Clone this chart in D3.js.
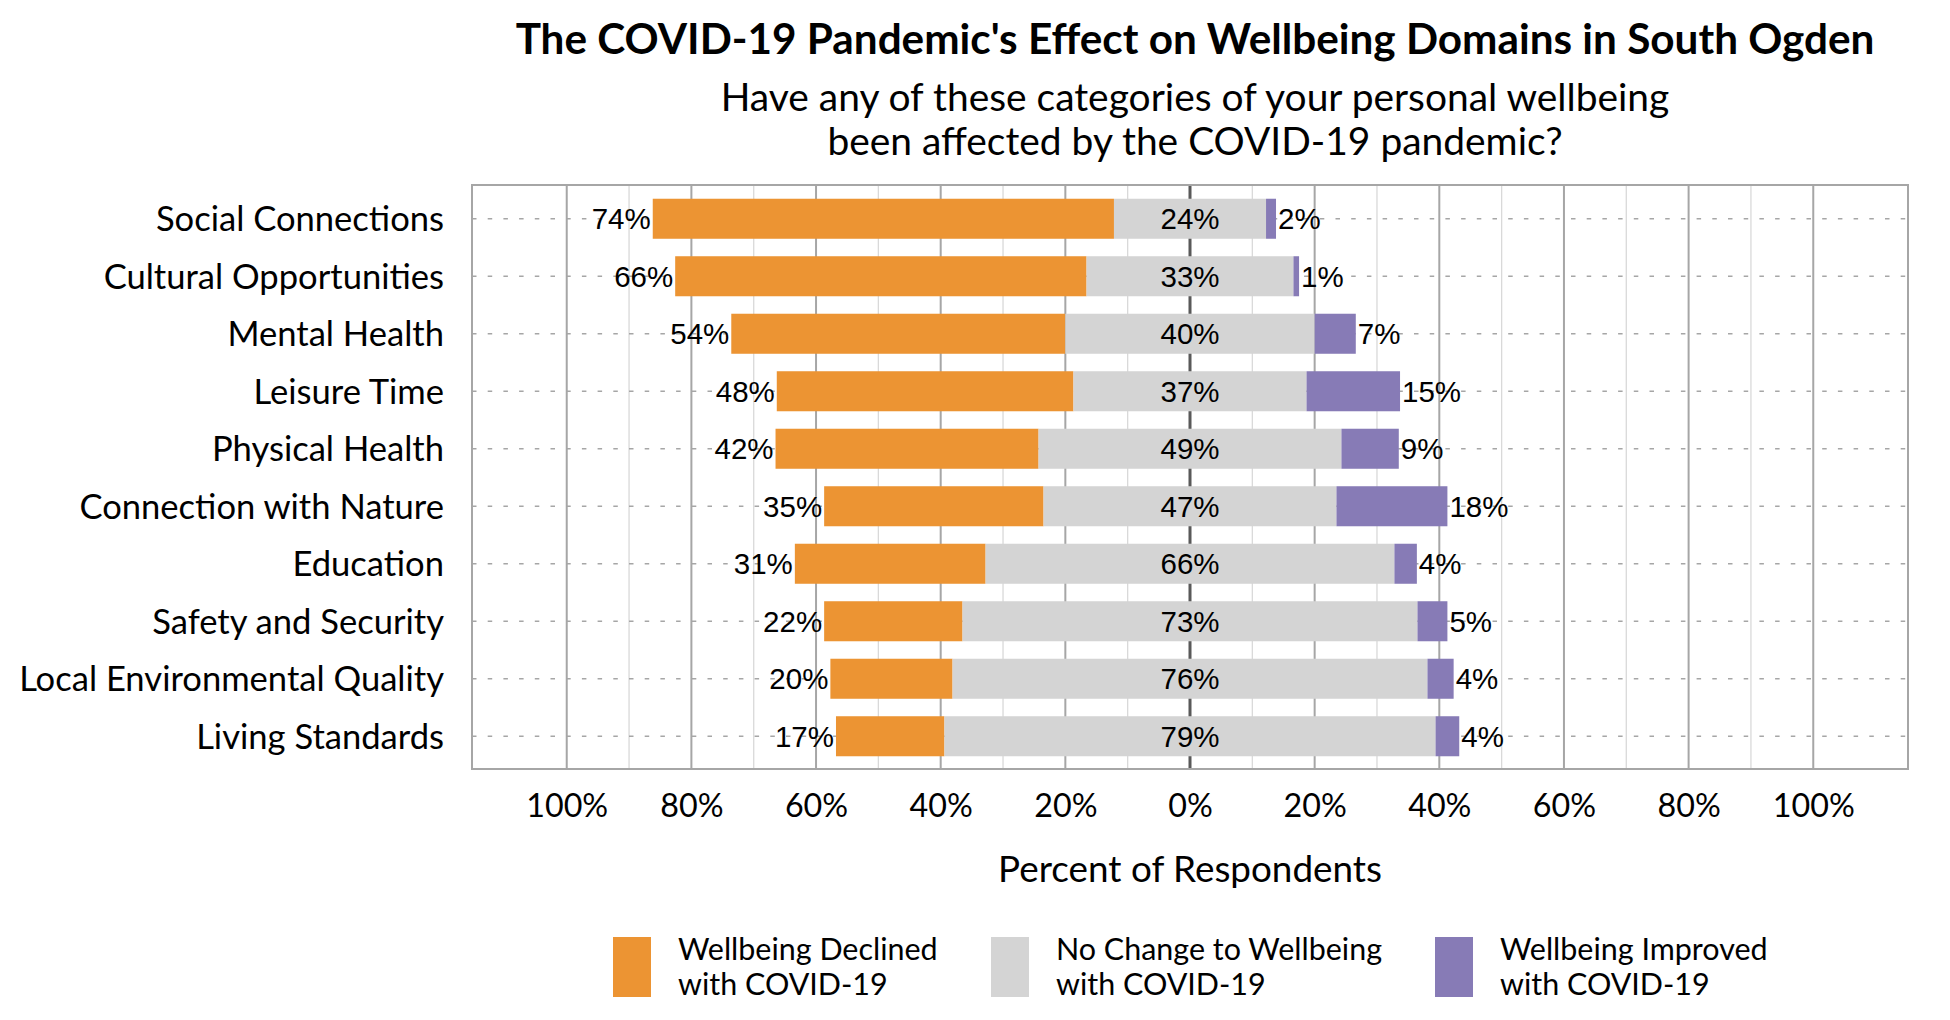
<!DOCTYPE html>
<html>
<head>
<meta charset="utf-8">
<script src="https://cdn.jsdelivr.net/npm/d3@7"></script>
<style>
  html, body { margin: 0; padding: 0; background: #ffffff; }
  svg { display: block; }
</style>
</head>
<body>
<svg id="chart" width="1950" height="1020"></svg>
<script>
// ---------------- data ----------------
const categories = [
  "Social Connections",
  "Cultural Opportunities",
  "Mental Health",
  "Leisure Time",
  "Physical Health",
  "Connection with Nature",
  "Education",
  "Safety and Security",
  "Local Environmental Quality",
  "Living Standards"
];
const declined = [74.0, 66.0, 53.6, 47.6, 42.2, 35.2, 30.6, 22.2, 19.6, 17.4];
const noChange = [24.4, 33.2, 40.0, 37.4, 48.6, 47.0, 65.6, 73.0, 76.2, 78.8];
const improved = [1.6, 0.9, 6.6, 15.0, 9.2, 17.8, 3.6, 4.8, 4.2, 3.8];

const tickValues = [-1, -0.8, -0.6, -0.4, -0.2, 0, 0.2, 0.4, 0.6, 0.8, 1];
const tickLabels = ["100%", "80%", "60%", "40%", "20%", "0%", "20%", "40%", "60%", "80%", "100%"];
const gridValues = [-1, -0.9, -0.8, -0.7, -0.6, -0.5, -0.4, -0.3, -0.2, -0.1, 0,
                    0.1, 0.2, 0.3, 0.4, 0.5, 0.6, 0.7, 0.8, 0.9, 1];

const seriesNames = [
  ["Wellbeing Declined", "with COVID-19"],
  ["No Change to Wellbeing", "with COVID-19"],
  ["Wellbeing Improved", "with COVID-19"]
];
const seriesColors = ["#EC9433", "#D4D4D4", "#877BB6"];

const titleText = "The COVID-19 Pandemic's Effect on Wellbeing Domains in South Ogden";
const subtitleLines = ["Have any of these categories of your personal wellbeing",
                       "been affected by the COVID-19 pandemic?"];
const axisTitle = "Percent of Respondents";

// ---------------- layout ----------------
const svg = d3.select("#chart");
const FONT = "Lato, 'Open Sans', sans-serif";
const LABEL_FONT = "'Liberation Sans', Arial, sans-serif";

const plot = { left: 472, right: 1908, top: 185, bottom: 769 };

const x = d3.scaleLinear().domain([-1.152, 1.152]).range([plot.left, plot.right]);
const y = d3.scaleBand().domain(categories).range([190, 765])
  .paddingInner(0.304).paddingOuter(0.152);

function fitWidth(sel, target) {
  const w = sel.node().getComputedTextLength();
  const fs = parseFloat(sel.attr("font-size"));
  const nfs = fs * target / w;
  sel.attr("font-size", nfs);
  return nfs;
}

// title
const t = svg.append("text").text(titleText)
  .attr("x", 1195).attr("y", 54).attr("text-anchor", "middle")
  .attr("font-family", FONT).attr("font-weight", "bold").attr("font-size", 40)
  .attr("fill", "#000");
fitWidth(t, 1359);

// subtitle
const subTargets = [949, 721];
const subYs = [111, 155];
let subSize = null;
subtitleLines.forEach((s, i) => {
  const st = svg.append("text").text(s)
    .attr("x", 1195).attr("y", subYs[i]).attr("text-anchor", "middle")
    .attr("font-family", FONT).attr("font-size", 34).attr("fill", "#000");
  if (i === 0) subSize = fitWidth(st, subTargets[0]);
  else st.attr("font-size", subSize);
});

// plot background
svg.append("rect")
  .attr("x", plot.left).attr("y", plot.top)
  .attr("width", plot.right - plot.left).attr("height", plot.bottom - plot.top)
  .attr("fill", "#fff");

// vertical grid lines (zero line included, drawn behind the bars)
const grid = svg.append("g");
gridValues.forEach(v => {
  const r = Math.round(v * 10);
  const isZero = r === 0;
  const isMajor = r % 2 === 0;
  grid.append("line")
    .attr("x1", x(v)).attr("x2", x(v))
    .attr("y1", plot.top).attr("y2", plot.bottom)
    .attr("stroke", isZero ? "#595959" : (isMajor ? "#A6A6A6" : "#D9D9D9"))
    .attr("stroke-width", isZero ? 3 : (isMajor ? 2 : 1.3));
});

// horizontal dotted lines
svg.append("g").selectAll("line").data(categories).join("line")
  .attr("x1", plot.left).attr("x2", plot.right)
  .attr("y1", d => y(d) + y.bandwidth() / 2)
  .attr("y2", d => y(d) + y.bandwidth() / 2)
  .attr("stroke", "#A6A6A6").attr("stroke-width", 1.6)
  .attr("stroke-dasharray", "4.5 11.2");

// plot border
svg.append("rect")
  .attr("x", plot.left).attr("y", plot.top)
  .attr("width", plot.right - plot.left).attr("height", plot.bottom - plot.top)
  .attr("fill", "none").attr("stroke", "#A6A6A6").attr("stroke-width", 2);

// bars
const rows = categories.map((c, i) => ({
  cat: c, dec: declined[i] / 100, nc: noChange[i] / 100, imp: improved[i] / 100,
  decL: declined[i], ncL: noChange[i], impL: improved[i]
}));

const bars = svg.append("g");
rows.forEach(r => {
  const y0 = y(r.cat), h = y.bandwidth();
  const half = r.nc / 2;
  bars.append("rect")
    .attr("x", x(-half - r.dec)).attr("width", x(-half) - x(-half - r.dec))
    .attr("y", y0).attr("height", h).attr("fill", seriesColors[0]);
  bars.append("rect")
    .attr("x", x(-half)).attr("width", x(half) - x(-half))
    .attr("y", y0).attr("height", h).attr("fill", seriesColors[1]);
  bars.append("rect")
    .attr("x", x(half)).attr("width", x(half + r.imp) - x(half))
    .attr("y", y0).attr("height", h).attr("fill", seriesColors[2]);
});

// data labels
const labels = svg.append("g")
  .attr("font-family", LABEL_FONT).attr("font-size", 29.5).attr("fill", "#000");
rows.forEach(r => {
  const cy = y(r.cat) + y.bandwidth() / 2;
  const half = r.nc / 2;
  labels.append("text").text(Math.round(r.decL) + "%")
    .attr("x", x(-half - r.dec) - 2).attr("y", cy).attr("dy", "0.36em")
    .attr("text-anchor", "end");
  labels.append("text").text(Math.round(r.ncL) + "%")
    .attr("x", x(0)).attr("y", cy).attr("dy", "0.36em")
    .attr("text-anchor", "middle");
  labels.append("text").text(Math.round(r.impL) + "%")
    .attr("x", x(half + r.imp) + 2).attr("y", cy).attr("dy", "0.36em")
    .attr("text-anchor", "start");
});

// category labels (y axis)
const catG = svg.append("g");
const catTexts = catG.selectAll("text").data(categories).join("text")
  .text(d => d)
  .attr("x", 444)
  .attr("y", d => y(d) + y.bandwidth() / 2)
  .attr("dy", "0.36em")
  .attr("text-anchor", "end")
  .attr("font-family", FONT).attr("font-size", 34).attr("fill", "#000");
{
  const widest = catTexts.filter(d => d === "Local Environmental Quality");
  const fs = fitWidth(widest, 425);
  catTexts.attr("font-size", fs);
}

// x axis tick labels
const xAxis = d3.axisBottom(x).tickValues(tickValues)
  .tickFormat((d, i) => tickLabels[i]).tickSize(0).tickPadding(0);
const axG = svg.append("g").attr("transform", `translate(0, ${plot.bottom})`).call(xAxis);
axG.select(".domain").remove();
axG.selectAll("text")
  .attr("y", 48).attr("dy", 0)
  .attr("font-family", FONT).attr("font-size", 34).attr("fill", "#000");
{
  const first = axG.select(".tick text");
  const fs = fitWidth(first, 82);
  axG.selectAll("text").attr("font-size", fs);
}

// axis title
const at = svg.append("text").text(axisTitle)
  .attr("x", x(0)).attr("y", 882).attr("text-anchor", "middle")
  .attr("font-family", FONT).attr("font-size", 34).attr("fill", "#000");
fitWidth(at, 384);

// legend
const legendSwatchX = [613, 991, 1435];
const legendTextX = [678, 1056, 1500];
const leg = svg.append("g");
let legSize = null;
seriesNames.forEach((lines, i) => {
  leg.append("rect")
    .attr("x", legendSwatchX[i]).attr("y", 937)
    .attr("width", 38).attr("height", 60)
    .attr("fill", seriesColors[i]);
  lines.forEach((ln, j) => {
    const tt = leg.append("text").text(ln)
      .attr("x", legendTextX[i]).attr("y", 960 + j * 35)
      .attr("font-family", FONT).attr("font-size", 30).attr("fill", "#000");
    if (i === 1 && j === 0) legSize = fitWidth(tt, 326);
  });
});
leg.selectAll("text").attr("font-size", legSize);
</script>
</body>
</html>
